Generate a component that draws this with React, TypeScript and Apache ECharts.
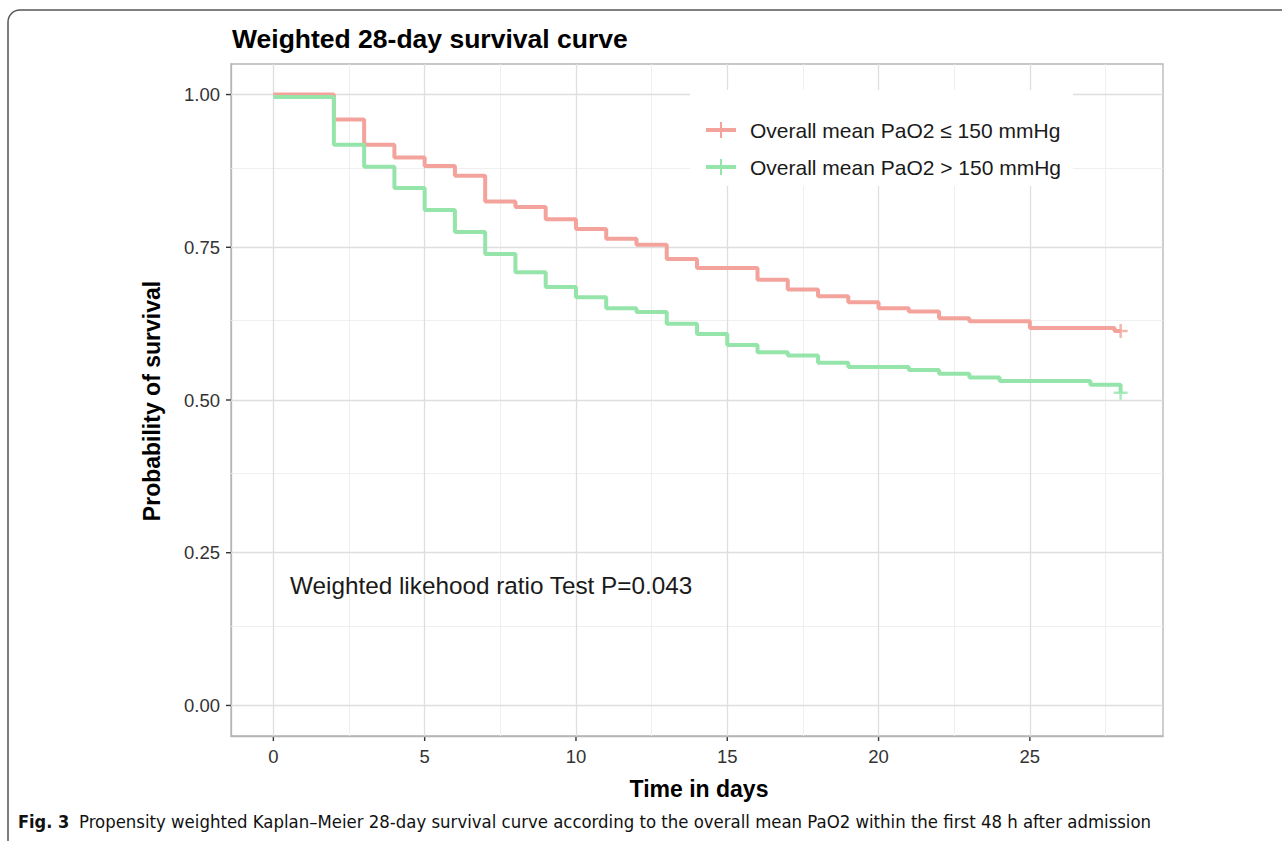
import React, { useEffect, useRef } from "react";
import * as echarts from "echarts";

// ---- data ----
const lowTimes = [0, 2, 3, 4, 5, 6, 7, 8, 9, 10, 11, 12, 13, 14, 16, 17, 18, 19, 20, 21, 22, 23, 25, 27.8, 28];
const lowSurv = [1.0, 0.959, 0.918, 0.897, 0.883, 0.867, 0.825, 0.816, 0.796, 0.78, 0.764, 0.754, 0.731, 0.716, 0.697, 0.681, 0.67, 0.66, 0.65, 0.645, 0.634, 0.629, 0.618, 0.613, 0.613];
const highTimes = [0, 2, 3, 4, 5, 6, 7, 8, 9, 10, 11, 12, 13, 14, 15, 16, 17, 18, 19, 21, 22, 23, 24, 27, 28];
const highSurv = [0.996, 0.918, 0.882, 0.847, 0.811, 0.775, 0.739, 0.709, 0.685, 0.668, 0.65, 0.644, 0.625, 0.608, 0.59, 0.578, 0.573, 0.561, 0.554, 0.549, 0.543, 0.537, 0.531, 0.525, 0.512];
const censorLow = [[28, 0.613]];
const censorHigh = [[28, 0.512]];

const seriesNames = ["Overall mean PaO2 \u2264 150 mmHg", "Overall mean PaO2 > 150 mmHg"];
const xTicks = [0, 5, 10, 15, 20, 25];
const xMinorTicks = [2.5, 7.5, 12.5, 17.5, 22.5, 27.5];
const yTicks = [0, 0.25, 0.5, 0.75, 1.0];
const yMinorTicks = [0.125, 0.375, 0.625, 0.875];

const titleText = "Weighted 28-day survival curve";
const xTitle = "Time in days";
const yTitle = "Probability of survival";
const annotation = "Weighted likehood ratio Test P=0.043";
const captionBold = "Fig. 3";
const captionText = "Propensity weighted Kaplan\u2013Meier 28-day survival curve according to the overall mean PaO2 within the first 48 h after admission";

const X_MIN = -1.4;
const X_MAX = 29.4;
const Y_MIN = -0.05;
const Y_MAX = 1.05;

const RED = "#F3A39B";
const GREEN = "#95E5AB";
const FONT = "'Liberation Sans', Arial, Helvetica, sans-serif";
const CAPFONT = "'Liberation Sans Narrow', 'DejaVu Sans Condensed', 'Liberation Sans', sans-serif";

const legendIcon = "path://M0,6 L30,6 L30,10 L0,10 Z M14,0 L16,0 L16,16 L14,16 Z";
const plusIcon = "path://M0,5.75 L14,5.75 L14,8.25 L0,8.25 Z M5.75,0 L8.25,0 L8.25,14 L5.75,14 Z";

export default function App() {
  const ref = useRef<HTMLDivElement>(null);
  useEffect(() => {
    if (!ref.current) return;
    const chart = echarts.init(ref.current, undefined, { renderer: "svg" });
    const gridLine = (vals: number[], axis: "xAxis" | "yAxis", color: string, width: number) =>
      vals.map((v) => ({ [axis]: v, lineStyle: { color, width, type: "solid" } }));
    const axisCommon = {
      type: "value",
      axisLine: { show: true, onZero: false, lineStyle: { color: "#b5b5b5", width: 1.3 } },
      splitLine: { show: false },
      axisTick: { show: false },
    };
    const baseGraphic: any[] = [
      {
        type: "rect",
        shape: { x: 8, y: 10, width: 1320, height: 900, r: 12 },
        style: { fill: "none", stroke: "#555", lineWidth: 1.5 },
        silent: true,
        z: 0,
      },
      {
        type: "text",
        x: 232,
        y: 39,
        style: { text: titleText, font: `bold 26.5px ${FONT}`, fill: "#000", verticalAlign: "middle", align: "left" },
      },
      {
        type: "text",
        x: 152,
        y: 401,
        rotation: Math.PI / 2,
        style: { text: yTitle, font: `bold 23px ${FONT}`, fill: "#000", verticalAlign: "middle", align: "center" },
      },
      {
        type: "text",
        x: 699,
        y: 789,
        style: { text: xTitle, font: `bold 23px ${FONT}`, fill: "#000", verticalAlign: "middle", align: "center" },
      },
      {
        type: "text",
        x: 290,
        y: 585,
        z: 5,
        style: { text: annotation, font: `24.3px ${FONT}`, fill: "#1a1a1a", verticalAlign: "middle", align: "left" },
      },
      {
        type: "text",
        x: 18,
        y: 821,
        style: { text: captionBold, font: `bold 18px ${CAPFONT}`, fill: "#111", verticalAlign: "middle", align: "left" },
      },
      {
        type: "text",
        x: 79,
        y: 821,
        style: { text: captionText, font: `18.4px ${CAPFONT}`, fill: "#111", verticalAlign: "middle", align: "left" },
      },
    ];
    const option: any = {
      animation: false,
      backgroundColor: "#ffffff",
      textStyle: { fontFamily: FONT },
      grid: {
        left: 231,
        top: 64,
        width: 932,
        height: 672,
        show: true,
        borderColor: "#b5b5b5",
        borderWidth: 1.3,
        backgroundColor: "transparent",
        containLabel: false,
      },
      xAxis: {
        ...axisCommon,
        min: X_MIN,
        max: X_MAX,
        axisLabel: { show: true, customValues: xTicks, fontSize: 18.5, color: "#333", margin: 11, fontFamily: FONT },
      },
      yAxis: {
        ...axisCommon,
        min: Y_MIN,
        max: Y_MAX,
        axisLabel: {
          show: true,
          customValues: yTicks,
          fontSize: 18.5,
          color: "#333",
          margin: 11,
          fontFamily: FONT,
          formatter: (v: number) => v.toFixed(2),
        },
      },
      legend: {
        data: seriesNames,
        orient: "vertical",
        left: 690,
        top: 90,
        backgroundColor: "#ffffff",
        padding: [29, 12, 8, 16],
        itemWidth: 30,
        itemHeight: 16,
        itemGap: 15,
        icon: legendIcon,
        textStyle: { fontSize: 21, color: "#1a1a1a", fontFamily: FONT, lineHeight: 22, padding: [0, 0, 0, 9] },
        selectedMode: false,
        z: 10,
      },
      series: [
        {
          name: "grid",
          type: "line",
          data: [[-10, -10]],
          showSymbol: false,
          silent: true,
          z: 1,
          lineStyle: { width: 0 },
          markLine: {
            silent: true,
            z: 1,
            symbol: ["none", "none"],
            label: { show: false },
            animation: false,
            emphasis: { disabled: true },
            data: [
              ...gridLine(xMinorTicks, "xAxis", "#ededed", 0.9),
              ...gridLine(yMinorTicks, "yAxis", "#ededed", 0.9),
              ...gridLine(xTicks, "xAxis", "#dedede", 1.3),
              ...gridLine(yTicks, "yAxis", "#dedede", 1.3),
            ],
          },
        },
        {
          name: seriesNames[0],
          type: "line",
          step: "end",
          data: lowTimes.map((t, i) => [t, lowSurv[i]]),
          showSymbol: false,
          color: RED,
          lineStyle: { color: RED, width: 4 },
          z: 3,
          silent: true,
        },
        {
          name: seriesNames[1],
          type: "line",
          step: "end",
          data: highTimes.map((t, i) => [t, highSurv[i]]),
          showSymbol: false,
          color: GREEN,
          lineStyle: { color: GREEN, width: 4 },
          z: 3,
          silent: true,
        },
        {
          name: "censor-low",
          type: "scatter",
          data: censorLow,
          symbol: plusIcon,
          symbolSize: 14,
          itemStyle: { color: RED },
          z: 4,
          silent: true,
        },
        {
          name: "censor-high",
          type: "scatter",
          data: censorHigh,
          symbol: plusIcon,
          symbolSize: 14,
          itemStyle: { color: GREEN },
          z: 4,
          silent: true,
        },
      ],
      graphic: baseGraphic,
    };
    chart.setOption(option);

    // axis tick marks, positioned through the chart's own scales
    const tickEls: any[] = [];
    xTicks.forEach((v) => {
      const p = chart.convertToPixel({ gridIndex: 0 }, [v, Y_MIN]) as number[];
      if (p) tickEls.push({ type: "line", shape: { x1: p[0], y1: p[1], x2: p[0], y2: p[1] + 5 }, style: { stroke: "#333", lineWidth: 1.4 }, silent: true });
    });
    yTicks.forEach((v) => {
      const p = chart.convertToPixel({ gridIndex: 0 }, [X_MIN, v]) as number[];
      if (p) tickEls.push({ type: "line", shape: { x1: p[0] - 5, y1: p[1], x2: p[0], y2: p[1] }, style: { stroke: "#333", lineWidth: 1.4 }, silent: true });
    });
    chart.setOption({ graphic: [...baseGraphic, ...tickEls] });
    return () => chart.dispose();
  }, []);
  return <div ref={ref} style={{ position: "fixed", left: 0, top: 0, width: 1282, height: 841 }} />;
}
